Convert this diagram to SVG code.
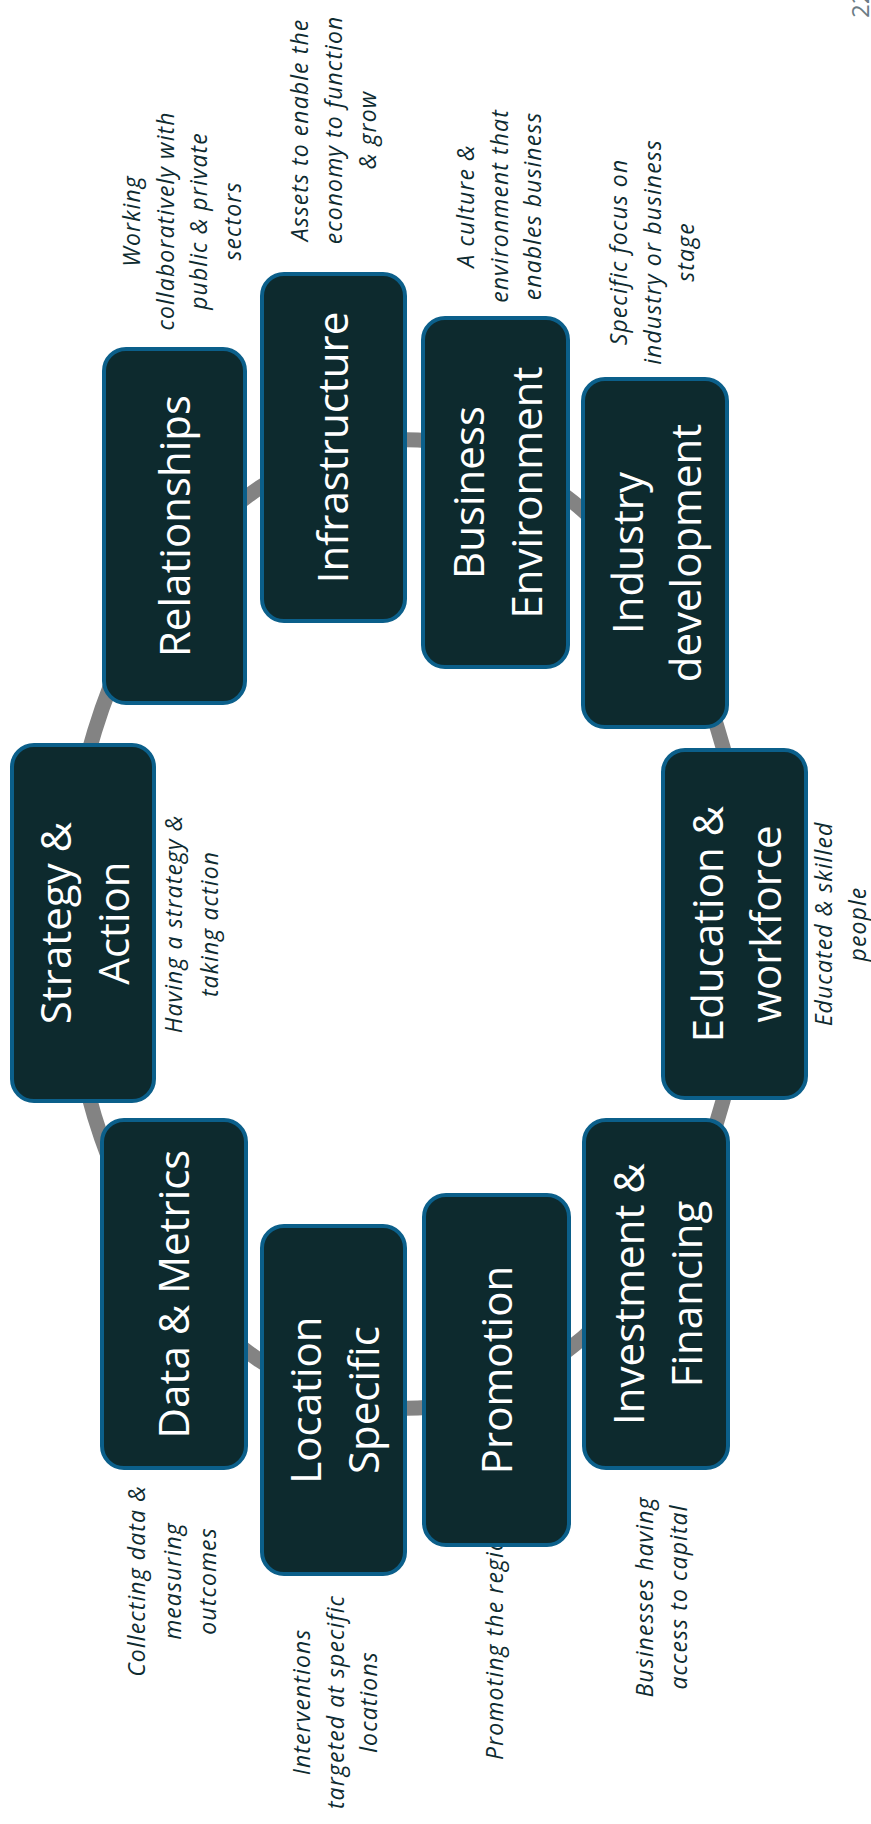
<svg xmlns="http://www.w3.org/2000/svg" width="871" height="1824" viewBox="0 0 871 1824">
<style>
.box{fill:#0d2a2e;stroke:#0b5f8a;stroke-width:4}
.lbl{font-family:"Open Sans","Liberation Sans",sans-serif;font-size:42px;fill:#ffffff;text-anchor:middle}
.desc{font-family:"Open Sans","Liberation Sans",sans-serif;font-style:italic;font-size:23px;letter-spacing:1.1px;fill:#0e2b30;text-anchor:middle}
.ring{fill:none;stroke:#838383;stroke-width:15}
.pg{font-family:"Open Sans","Liberation Sans",sans-serif;font-size:24px;fill:#6b7c85}
</style>
<rect width="871" height="1824" fill="#ffffff"/>
<text class="pg" transform="translate(869,18) rotate(-90)">22</text>
<g id="connectors">
<path class="ring" d="M174.5 570.2 A340 484 0 0 1 333.5 451.3"/>
<path class="ring" d="M333.5 451.3 A340 484 0 0 1 495.5 456.9"/>
<path class="ring" d="M495.5 456.9 A340 484 0 0 1 655 593.7"/>
<path class="ring" d="M655 593.7 A340 484 0 0 1 746.5 924"/>
<path class="ring" d="M746.5 924 A340 484 0 0 1 656 1252.8"/>
<path class="ring" d="M656 1252.8 A340 484 0 0 1 496.5 1390.7"/>
<path class="ring" d="M496.5 1390.7 A340 484 0 0 1 333.5 1396.7"/>
<path class="ring" d="M333.5 1396.7 A340 484 0 0 1 174 1277.2"/>
<path class="ring" d="M174 1277.2 A340 484 0 0 1 66.5 924"/>
<path class="ring" d="M66.5 924 A340 484 0 0 1 174.5 570.2"/>
</g>
<g id="node-relationships">
<text class="desc" transform="translate(140,221) rotate(-90)"><tspan x="0" dy="0">Working</tspan><tspan x="0" dy="33.5">collaboratively with</tspan><tspan x="0" dy="33.5">public &amp; private</tspan><tspan x="0" dy="33.5">sectors</tspan></text>
<rect class="box" x="104" y="349" width="141" height="354" rx="22"/>
<text class="lbl" transform="translate(174.5,526) rotate(-90)"><tspan x="0" y="15">Relationships</tspan></text>
</g>
<g id="node-infrastructure">
<text class="desc" transform="translate(308,130) rotate(-90)"><tspan x="0" dy="0">Assets to enable the</tspan><tspan x="0" dy="34">economy to function</tspan><tspan x="0" dy="34">&amp; grow</tspan></text>
<rect class="box" x="262" y="274" width="143" height="347" rx="22"/>
<text class="lbl" transform="translate(333.5,447.5) rotate(-90)"><tspan x="0" y="14">Infrastructure</tspan></text>
</g>
<g id="node-business-environment">
<text class="desc" transform="translate(474,206) rotate(-90)"><tspan x="0" dy="0">A culture &amp;</tspan><tspan x="0" dy="33.5">environment that</tspan><tspan x="0" dy="33.5">enables business</tspan></text>
<rect class="box" x="423" y="318" width="145" height="349" rx="22"/>
<text class="lbl" transform="translate(495.5,492.5) rotate(-90)"><tspan x="0" y="-12">Business</tspan><tspan x="0" y="46">Environment</tspan></text>
</g>
<g id="node-industry-development">
<text class="desc" transform="translate(627,252) rotate(-90)"><tspan x="0" dy="0">Specific focus on</tspan><tspan x="0" dy="33.5">industry or business</tspan><tspan x="0" dy="33.5">stage</tspan></text>
<rect class="box" x="583" y="379" width="144" height="348" rx="22"/>
<text class="lbl" transform="translate(655,553) rotate(-90)"><tspan x="0" y="-12">Industry</tspan><tspan x="0" y="46">development</tspan></text>
</g>
<g id="node-education-workforce">
<text class="desc" transform="translate(832,924) rotate(-90)"><tspan x="0" dy="0">Educated &amp; skilled</tspan><tspan x="0" dy="33.5">people</tspan></text>
<rect class="box" x="663" y="750" width="143" height="348" rx="22"/>
<text class="lbl" transform="translate(734.5,924) rotate(-90)"><tspan x="0" y="-12">Education &amp;</tspan><tspan x="0" y="46">workforce</tspan></text>
</g>
<g id="node-investment-financing">
<text class="desc" transform="translate(653,1597) rotate(-90)"><tspan x="0" dy="0">Businesses having</tspan><tspan x="0" dy="34">access to capital</tspan></text>
<rect class="box" x="584" y="1120" width="144" height="348" rx="22"/>
<text class="lbl" transform="translate(656,1294) rotate(-90)"><tspan x="0" y="-12">Investment &amp;</tspan><tspan x="0" y="46">Financing</tspan></text>
</g>
<g id="node-promotion">
<text class="desc" transform="translate(503,1760) rotate(-90)" style="text-anchor:start">Promoting the region</text>
<rect class="box" x="424" y="1195" width="145" height="350" rx="22"/>
<text class="lbl" transform="translate(496.5,1370) rotate(-90)"><tspan x="0" y="15">Promotion</tspan></text>
</g>
<g id="node-location-specific">
<text class="desc" transform="translate(310,1702) rotate(-90)"><tspan x="0" dy="0">Interventions</tspan><tspan x="0" dy="33.5">targeted at specific</tspan><tspan x="0" dy="33.5">locations</tspan></text>
<rect class="box" x="262" y="1226" width="143" height="348" rx="22"/>
<text class="lbl" transform="translate(333.5,1400) rotate(-90)"><tspan x="0" y="-13">Location</tspan><tspan x="0" y="45">Specific</tspan></text>
</g>
<g id="node-data-metrics">
<text class="desc" transform="translate(145,1581) rotate(-90)"><tspan x="0" dy="0">Collecting data &amp;</tspan><tspan x="0" dy="36">measuring</tspan><tspan x="0" dy="35">outcomes</tspan></text>
<rect class="box" x="102" y="1120" width="144" height="348" rx="22"/>
<text class="lbl" transform="translate(174,1294) rotate(-90)"><tspan x="0" y="15">Data &amp; Metrics</tspan></text>
</g>
<g id="node-strategy-action">
<text class="desc" transform="translate(182,924) rotate(-90)"><tspan x="0" dy="0">Having a strategy &amp;</tspan><tspan x="0" dy="36">taking action</tspan></text>
<rect class="box" x="12" y="745" width="142" height="356" rx="22"/>
<text class="lbl" transform="translate(83,923) rotate(-90)"><tspan x="0" y="-12">Strategy &amp;</tspan><tspan x="0" y="46">Action</tspan></text>
</g>
</svg>
